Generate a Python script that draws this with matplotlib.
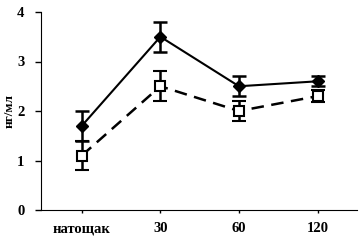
import matplotlib
matplotlib.use("Agg")
import matplotlib.pyplot as plt

categories = ["натощак", "30", "60", "120"]
series1 = [1.7, 3.5, 2.5, 2.6]
err1 = [0.3, 0.3, 0.2, 0.1]
series2 = [1.1, 2.5, 2.0, 2.3]
err2 = [0.3, 0.3, 0.2, 0.12]
yticks = [0, 1, 2, 3, 4]

plt.rcParams['font.family'] = ['Liberation Serif', 'DejaVu Serif']
plt.rcParams['font.weight'] = 'bold'

fig = plt.figure(figsize=(3.59, 2.4), dpi=100)
ax = fig.add_axes([0.114, 0.125, 0.88, 0.825])
x = list(range(len(categories)))

ax.errorbar(x, series1, yerr=err1, color='black', lw=1.5, marker='D', ms=6,
            mfc='black', mec='black', capsize=5, elinewidth=1.8, capthick=1.8, zorder=3)
ax.errorbar(x, series2, yerr=err2, color='black', lw=1.8, ls=(0, (5, 3)), marker='s', ms=7,
            mfc='white', mec='black', mew=1.5, capsize=5, elinewidth=1.8, capthick=1.8, zorder=3)

ax.set_xlim(-0.52, 3.5)
ax.set_ylim(0, 4)
ax.set_yticks(yticks)
ax.set_xticks(x)
ax.set_xticklabels(categories, fontsize=10.5, fontweight='bold')
ax.set_yticklabels([str(t) for t in yticks], fontsize=10.5, fontweight='bold')
ax.set_ylabel("нг/мл", fontsize=9.5, fontweight='bold')
ax.yaxis.set_label_coords(-0.08, 0.5)
ax.spines['top'].set_visible(False)
ax.spines['right'].set_visible(False)
ax.tick_params(axis='y', direction='out', length=4, width=1, pad=8)
ax.tick_params(axis='x', direction='out', length=2, width=1, pad=7)

fig.savefig("out.png", dpi=100)
